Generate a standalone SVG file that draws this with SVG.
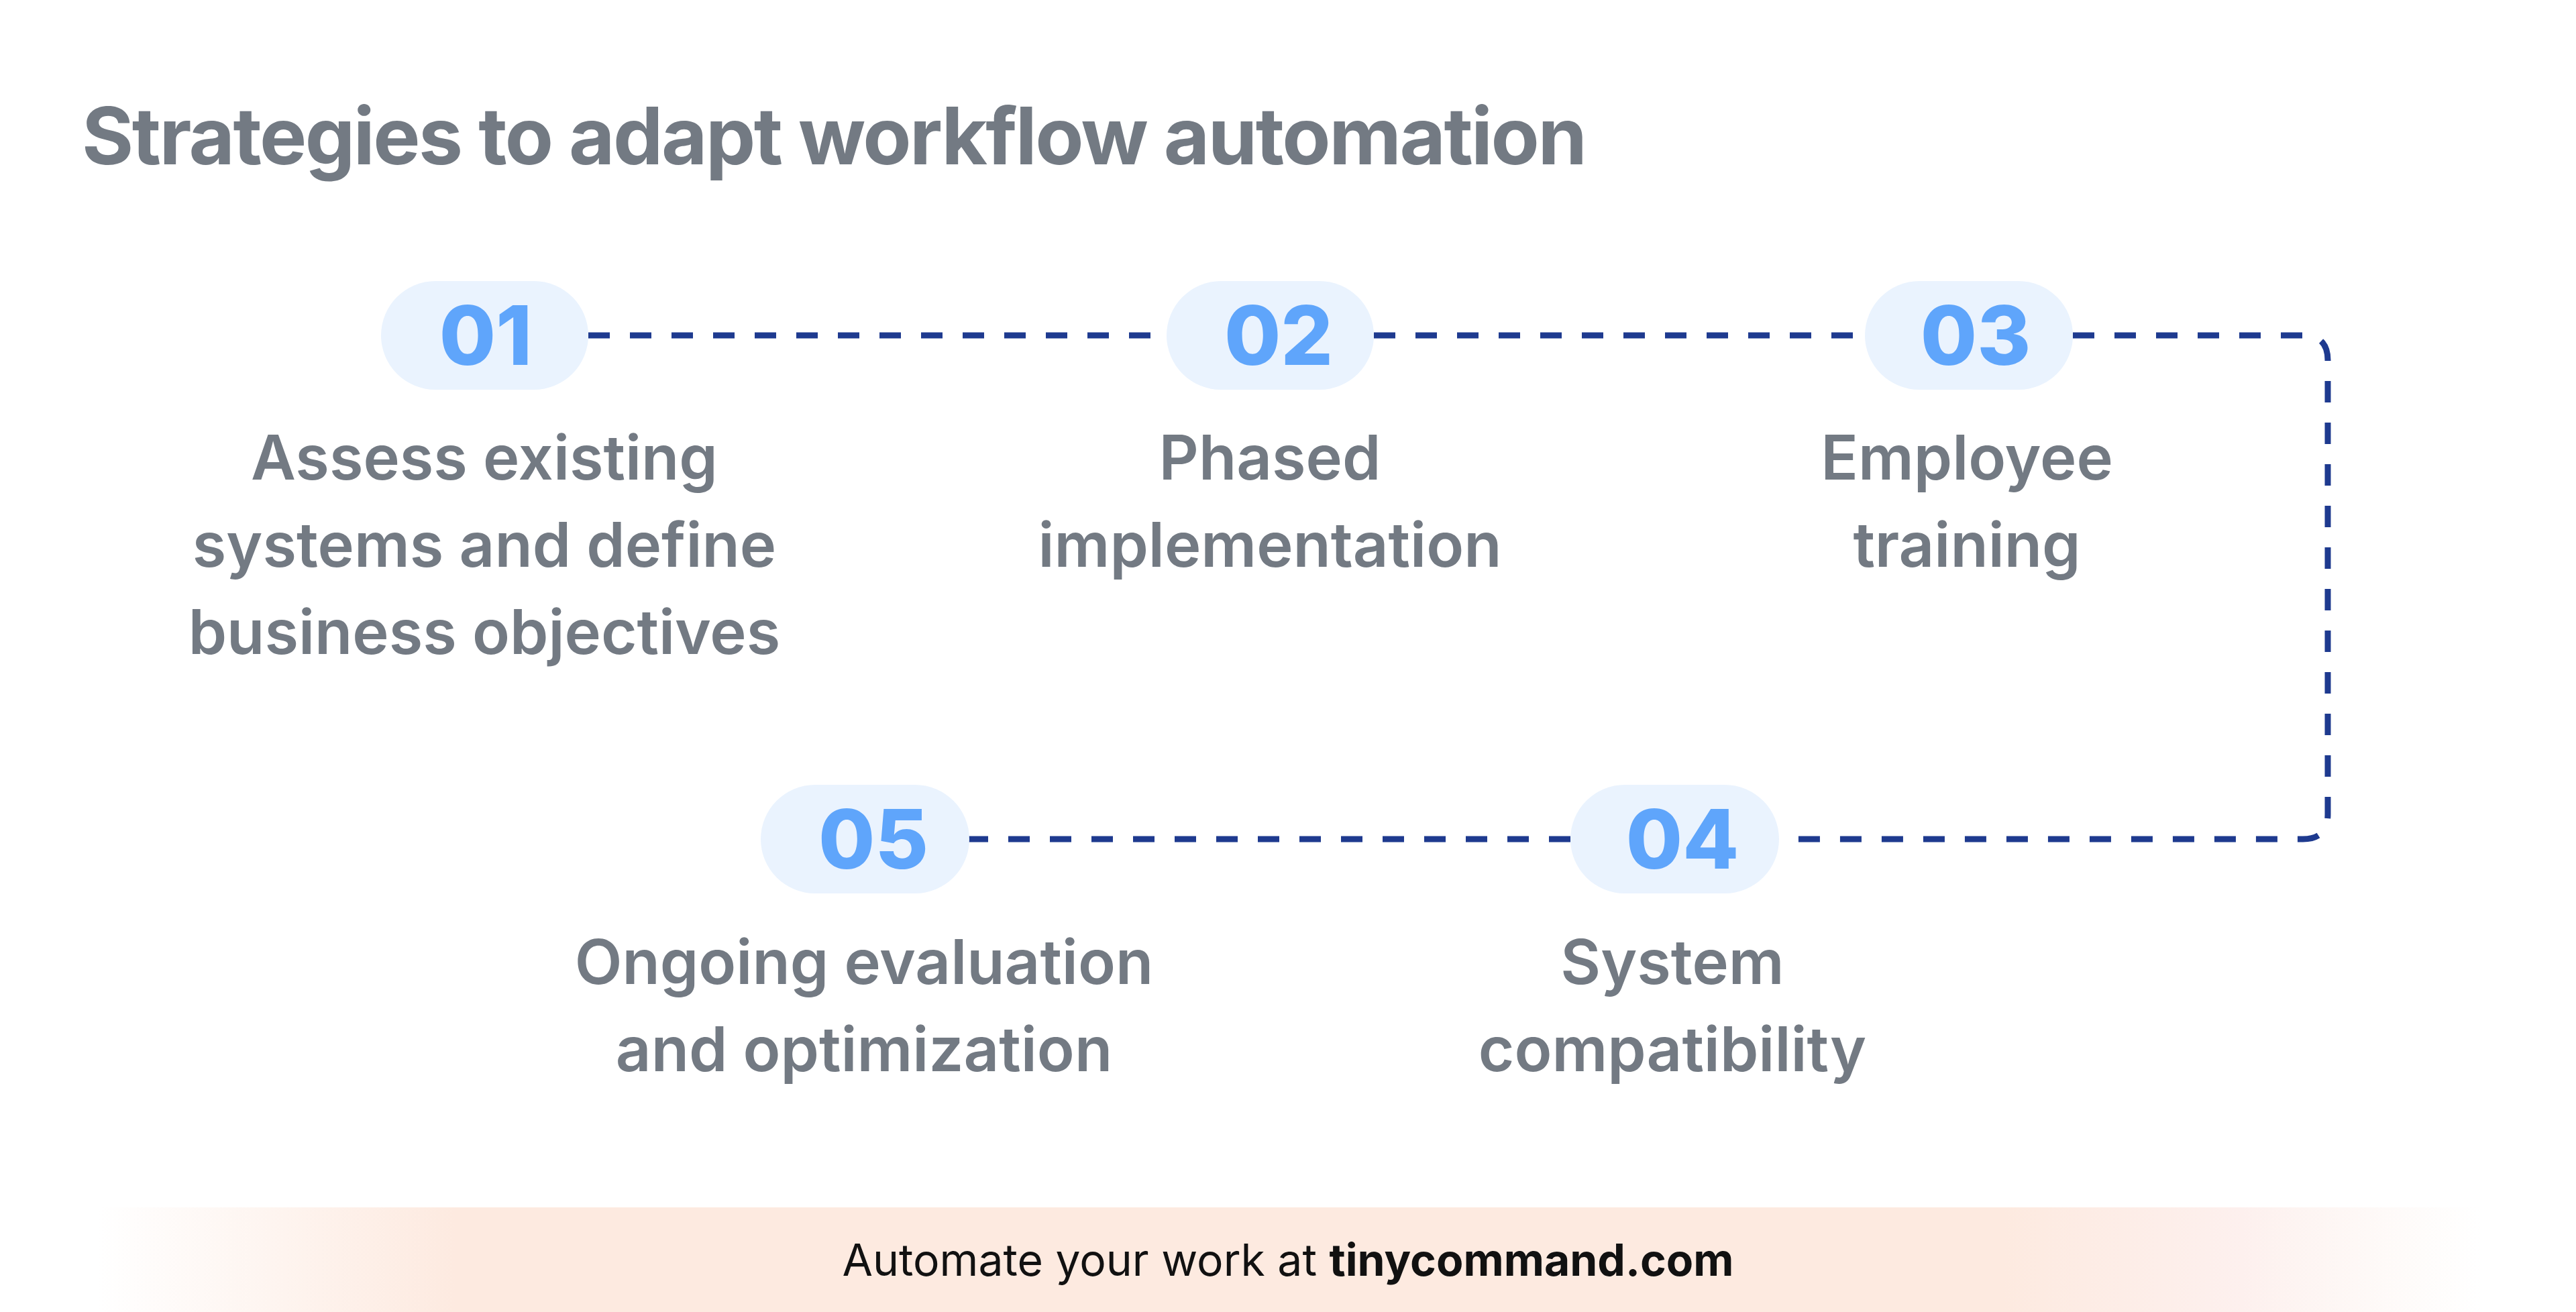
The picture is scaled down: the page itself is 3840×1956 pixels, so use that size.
<svg xmlns="http://www.w3.org/2000/svg" width="3840" height="1956" viewBox="0 0 3840 1956">
<style>
.title{font-family:Inter,"Liberation Sans",sans-serif;font-weight:700;font-size:118px;letter-spacing:-2.5px;fill:#737a83}
.num{font-family:Inter,"Liberation Sans",sans-serif;font-weight:800;font-size:122px;fill:#5fa5fb;text-anchor:middle}
.lbl{font-family:Inter,"Liberation Sans",sans-serif;font-weight:600;font-size:92px;fill:#737a83;text-anchor:middle}
.pill{fill:#eaf3fe}
.conn{fill:none;stroke:#1e3a8f;stroke-width:9;stroke-dasharray:32 30}
.foot{font-family:Inter,"Liberation Sans",sans-serif;font-size:66px;fill:#111}
</style>
<defs>
<linearGradient id="fg" x1="0" x2="1" y1="0" y2="0">
<stop offset="0" stop-color="#fdeae0" stop-opacity="0"/>
<stop offset="0.15" stop-color="#fdeae0"/>
<stop offset="0.8" stop-color="#fdeae0"/>
<stop offset="0.9" stop-color="#fdf0ee"/>
<stop offset="1" stop-color="#fdf4ee" stop-opacity="0"/>
</linearGradient>
</defs>
<rect width="3840" height="1956" fill="#fff"/>
<text class="title" x="122" y="245">Strategies to adapt workflow automation</text>
<g id="connectors">
<path class="conn" d="M877 500 H1739"/>
<path class="conn" d="M2048 500 H2780"/>
<path class="conn" d="M3090 500 H3433 Q3470 500 3470 537 V1214 Q3470 1251 3433 1251 H2652"/>
<path class="conn" d="M2341 1251 H1443"/>
</g>
<g id="n1"><rect class="pill" x="568" y="419" width="309" height="162" rx="81"/><text class="num" x="724" y="544">01</text>
<text class="lbl" x="722" y="715">Assess existing</text><text class="lbl" x="722" y="845">systems and define</text><text class="lbl" x="722" y="975">business objectives</text></g>
<g id="n2"><rect class="pill" x="1739" y="419" width="309" height="162" rx="81"/><text class="num" x="1906" y="544">02</text>
<text class="lbl" x="1893" y="715">Phased</text><text class="lbl" x="1893" y="845">implementation</text></g>
<g id="n3"><rect class="pill" x="2780" y="419" width="310" height="162" rx="81"/><text class="num" x="2945" y="544">03</text>
<text class="lbl" x="2932" y="715">Employee</text><text class="lbl" x="2932" y="845">training</text></g>
<g id="n4"><rect class="pill" x="2341" y="1170" width="311" height="162" rx="81"/><text class="num" x="2508" y="1295">04</text>
<text class="lbl" x="2493" y="1467">System</text><text class="lbl" x="2493" y="1597">compatibility</text></g>
<g id="n5"><rect class="pill" x="1134" y="1170" width="311" height="162" rx="81"/><text class="num" x="1302" y="1295">05</text>
<text class="lbl" x="1288" y="1467">Ongoing evaluation</text><text class="lbl" x="1288" y="1597">and optimization</text></g>
<rect x="147" y="1800" width="3551" height="156" fill="url(#fg)"/>
<text class="foot" x="1920" y="1902" text-anchor="middle">Automate your work at <tspan font-weight="700">tinycommand.com</tspan></text>
</svg>
